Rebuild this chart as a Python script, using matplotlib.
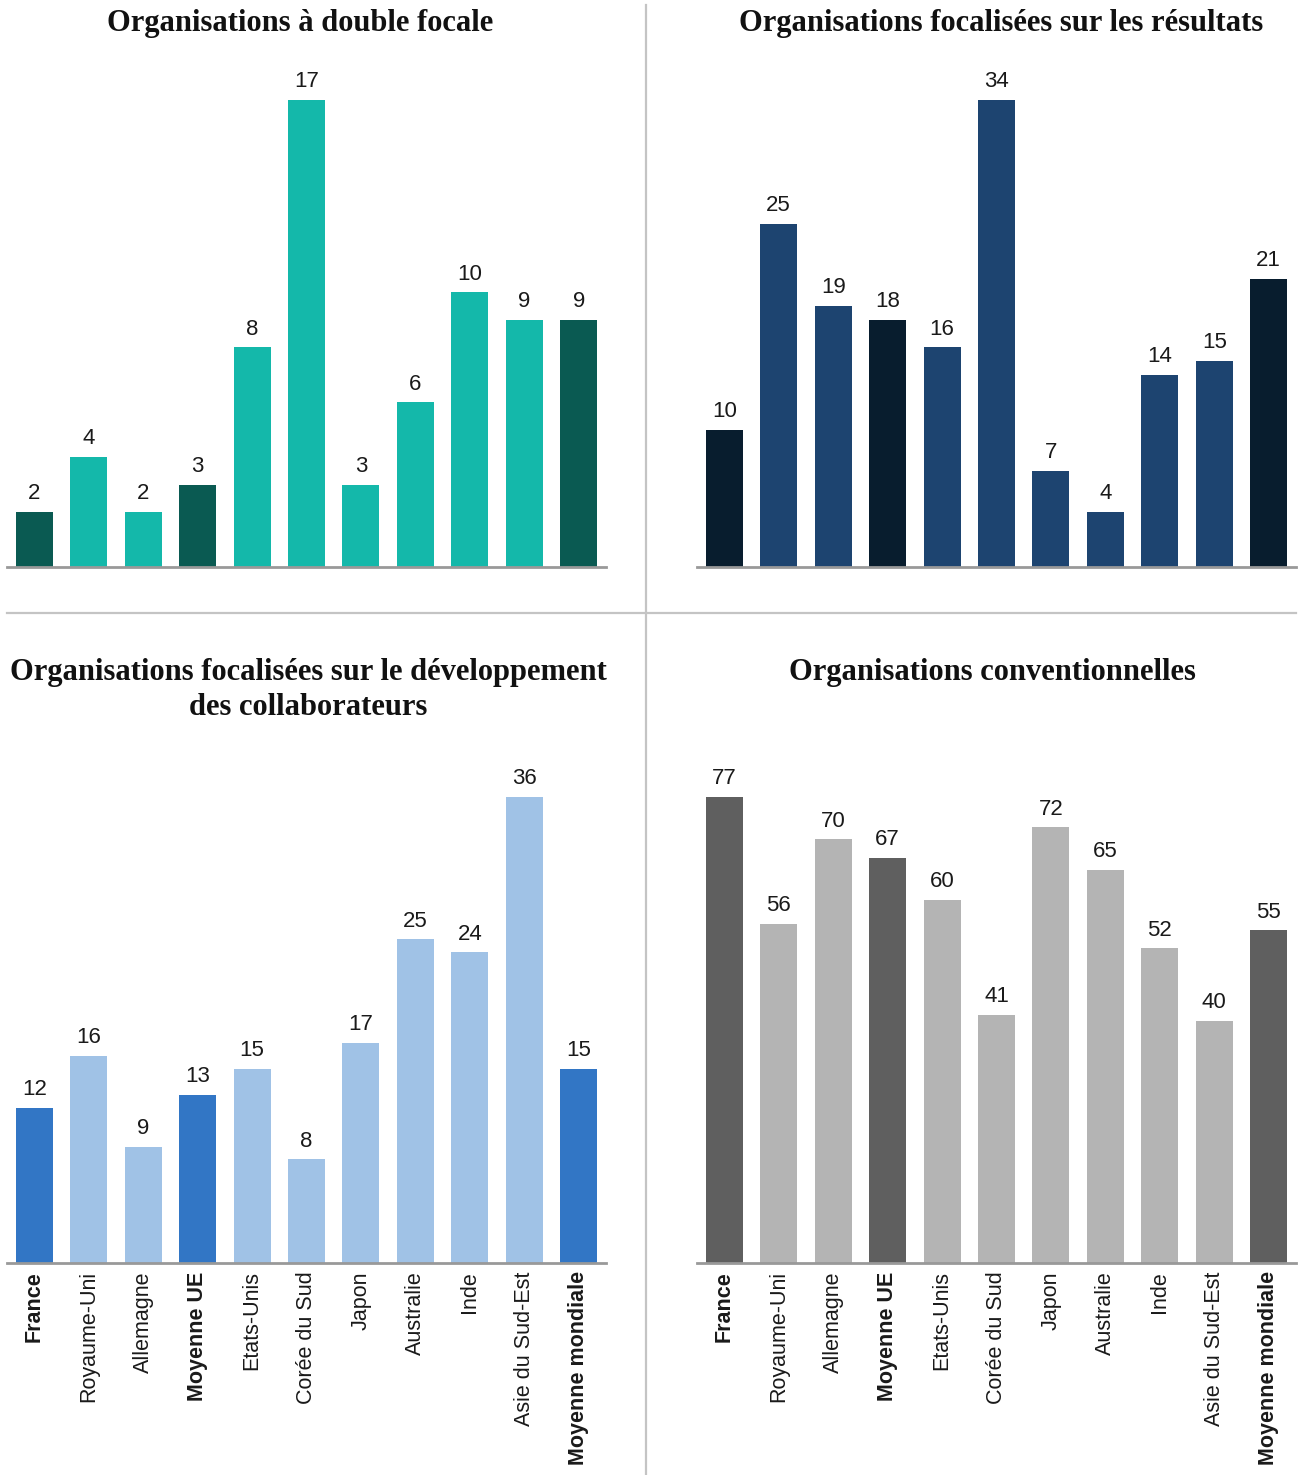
import matplotlib.pyplot as plt
from matplotlib.lines import Line2D

W, H = 1301, 1475

pays = ['France', 'Royaume-Uni', 'Allemagne', 'Moyenne UE', 'Etats-Unis',
        'Corée du Sud', 'Japon', 'Australie', 'Inde', 'Asie du Sud-Est',
        'Moyenne mondiale']
double_focale = [2, 4, 2, 3, 8, 17, 3, 6, 10, 9, 9]
resultats = [10, 25, 19, 18, 16, 34, 7, 4, 14, 15, 21]
developpement = [12, 16, 9, 13, 15, 8, 17, 25, 24, 36, 15]
conventionnelles = [77, 56, 70, 67, 60, 41, 72, 65, 52, 40, 55]
moyennes = {'France', 'Moyenne UE', 'Moyenne mondiale'}

fig = plt.figure(figsize=(W / 100, H / 100), dpi=100)
fig.patch.set_facecolor('white')


def px_axes(x0, x1, ytop, ybase):
    return fig.add_axes([x0 / W, 1 - ybase / H, (x1 - x0) / W, (ybase - ytop) / H])


def panel(ax, vals, light, dark, ticks):
    cols = [dark if p in moyennes else light for p in pays]
    ax.bar(range(len(vals)), vals, width=0.68, color=cols, zorder=2)
    ax.set_xlim(-0.5, len(vals) - 0.5)
    ax.set_ylim(0, max(vals))
    for i, v in enumerate(vals):
        ax.annotate(str(v), (i, v), xytext=(0, 5.5), textcoords='offset points',
                    ha='center', va='bottom', fontsize=16,
                    family='Liberation Sans', color='#1a1a1a',
                    annotation_clip=False)
    for s in ['top', 'right', 'left']:
        ax.spines[s].set_visible(False)
    ax.spines['bottom'].set_color('#999999')
    ax.spines['bottom'].set_linewidth(2)
    ax.spines['bottom'].set_zorder(3)
    ax.set_yticks([])
    ax.tick_params(axis='x', length=0, pad=6)
    if ticks:
        ax.set_xticks(range(len(pays)))
        ax.set_xticklabels(pays, rotation=90, fontsize=15.5,
                           family='Liberation Sans', color='#1a1a1a', va='top')
        for lab in ax.get_xticklabels():
            if lab.get_text() in moyennes:
                lab.set_fontweight('bold')
    else:
        ax.set_xticks([])


ax1 = px_axes(7, 606, 100, 567)
panel(ax1, double_focale, '#14B8AA', '#0A5A52', False)
ax2 = px_axes(697, 1296, 100, 567)
panel(ax2, resultats, '#1D4470', '#081D2E', False)
ax3 = px_axes(7, 606, 797, 1263)
panel(ax3, developpement, '#A0C2E6', '#3276C5', True)
ax4 = px_axes(697, 1296, 797, 1263)
panel(ax4, conventionnelles, '#B4B4B4', '#5F5F5F', True)

# titres
tkw = dict(ha='center', va='baseline', fontsize=22, fontweight='bold',
           family='Liberation Serif', color='#111111')
fig.text(300 / W, 1 - 31 / H, 'Organisations à double focale', **tkw)
fig.text(1001 / W, 1 - 31 / H, 'Organisations focalisées sur les résultats', **tkw)
fig.text(308 / W, 1 - 680 / H, 'Organisations focalisées sur le développement', **tkw)
fig.text(308 / W, 1 - 715 / H, 'des collaborateurs', **tkw)
fig.text(992 / W, 1 - 680 / H, 'Organisations conventionnelles', **tkw)

# séparateurs
fig.add_artist(Line2D([7 / W, 1296 / W], [1 - 613 / H] * 2, color='#c4c4c4', lw=1.6))
fig.add_artist(Line2D([646 / W] * 2, [1 - 5 / H, 0], color='#c4c4c4', lw=1.6))

fig.savefig('out.png', dpi=100, facecolor='white')
